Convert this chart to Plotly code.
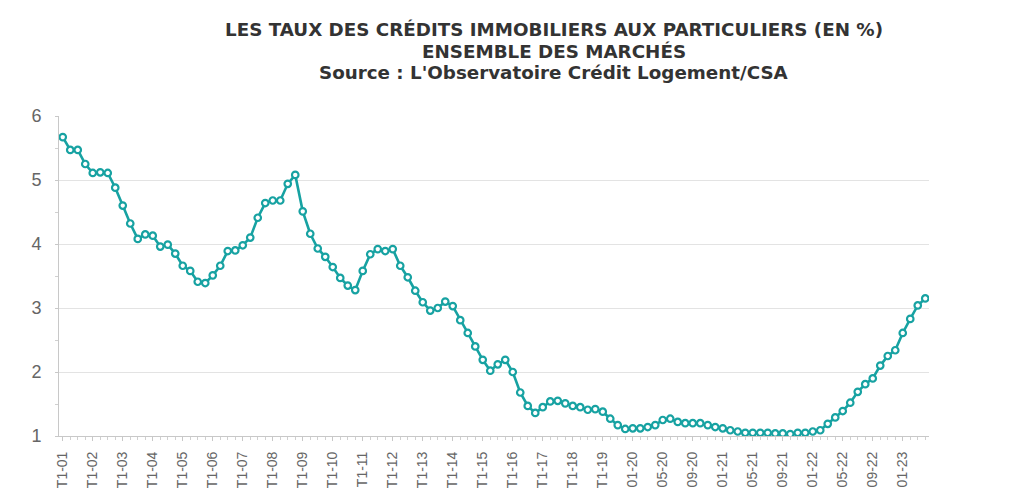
import plotly.graph_objects as go

# Periods: quarterly 2001-2019, then monthly 01-2020 .. 04-2023
quarters = [f"T{q}-{y:02d}" for y in range(1, 20) for q in range(1, 5)]
months = [f"{m:02d}-{y:02d}" for y in range(20, 24) for m in range(1, 13)][:40]
periods = quarters + months

rates = [
    5.67, 5.47, 5.47, 5.25, 5.11, 5.12, 5.11, 4.88, 4.60, 4.32,
    4.08, 4.15, 4.13, 3.96, 3.99, 3.85, 3.66, 3.58, 3.41, 3.39,
    3.51, 3.66, 3.89, 3.90, 3.98, 4.10, 4.41, 4.64, 4.68, 4.68,
    4.94, 5.08, 4.51, 4.16, 3.93, 3.80, 3.64, 3.47, 3.35, 3.28,
    3.58, 3.84, 3.92, 3.89, 3.92, 3.66, 3.48, 3.27, 3.09, 2.96,
    3.00, 3.10, 3.03, 2.81, 2.61, 2.40, 2.19, 2.02, 2.12, 2.19,
    2.00, 1.68, 1.47, 1.36, 1.45, 1.54, 1.55, 1.51, 1.47, 1.45,
    1.41, 1.42, 1.38, 1.27, 1.17, 1.11, 1.12, 1.12, 1.14, 1.17,
    1.25, 1.27, 1.22, 1.20, 1.20, 1.20, 1.17, 1.14, 1.12, 1.09,
    1.07, 1.05, 1.05, 1.05, 1.05, 1.04, 1.04, 1.03, 1.05, 1.05,
    1.07, 1.09, 1.19, 1.29, 1.39, 1.52, 1.69, 1.81, 1.90, 2.10,
    2.25, 2.34, 2.61, 2.83, 3.04, 3.15,
]

title_lines = [
    "LES TAUX DES CRÉDITS IMMOBILIERS AUX PARTICULIERS (EN %)",
    "ENSEMBLE DES MARCHÉS",
    "Source : L'Observatoire Crédit Logement/CSA",
]

x_idx = list(range(len(periods)))
tick_idx = x_idx[::4]
tick_text = periods[::4]

teal = "#17A2A2"

fig = go.Figure(
    go.Scatter(
        x=x_idx,
        y=rates,
        mode="lines+markers",
        line=dict(color=teal, width=2.6),
        marker=dict(symbol="circle", size=6.5, color="white",
                    line=dict(color=teal, width=2.2)),
        hovertext=periods,
    )
)

title_y = [1.269, 1.203, 1.1375]
for txt, yy in zip(title_lines, title_y):
    fig.add_annotation(
        text=f"<b>{txt}</b>", x=0.569, y=yy, xref="paper", yref="paper",
        xanchor="center", yanchor="middle", showarrow=False,
        font=dict(family="DejaVu Sans", size=18.3, color="#333333"),
    )

fig.update_layout(
    width=1024,
    height=499,
    margin=dict(l=59, r=95, t=116, b=63),
    paper_bgcolor="white",
    plot_bgcolor="white",
    showlegend=False,
    font=dict(family="Liberation Sans", color="#666666"),
)

fig.update_xaxes(
    range=[-0.5, len(periods) - 0.5],
    tickmode="array",
    tickvals=tick_idx,
    ticktext=tick_text,
    tickangle=-90,
    tickfont=dict(size=14, color="#666666"),
    showgrid=False,
    zeroline=False,
    showline=True,
    linecolor="#c8c8c8",
    linewidth=1,
    ticks="outside",
    ticklen=4,
    tickcolor="#c8c8c8",
    minor=dict(ticks="outside", ticklen=3, tickcolor="#d0d0d0", dtick=1, tick0=0),
    ticklabelstandoff=5,
)

fig.update_yaxes(
    range=[1, 6],
    tickvals=[1, 2, 3, 4, 5, 6],
    tickfont=dict(size=18, color="#666666"),
    showgrid=True,
    gridcolor="#e3e3e3",
    gridwidth=1,
    zeroline=False,
    showline=True,
    linecolor="#c8c8c8",
    linewidth=1,
    ticks="outside",
    ticklen=3,
    tickcolor="#c8c8c8",
    minor=dict(ticks="outside", ticklen=3, tickcolor="#d0d0d0", dtick=0.5),
    ticklabelstandoff=10,
)

fig.write_html("out.html")
